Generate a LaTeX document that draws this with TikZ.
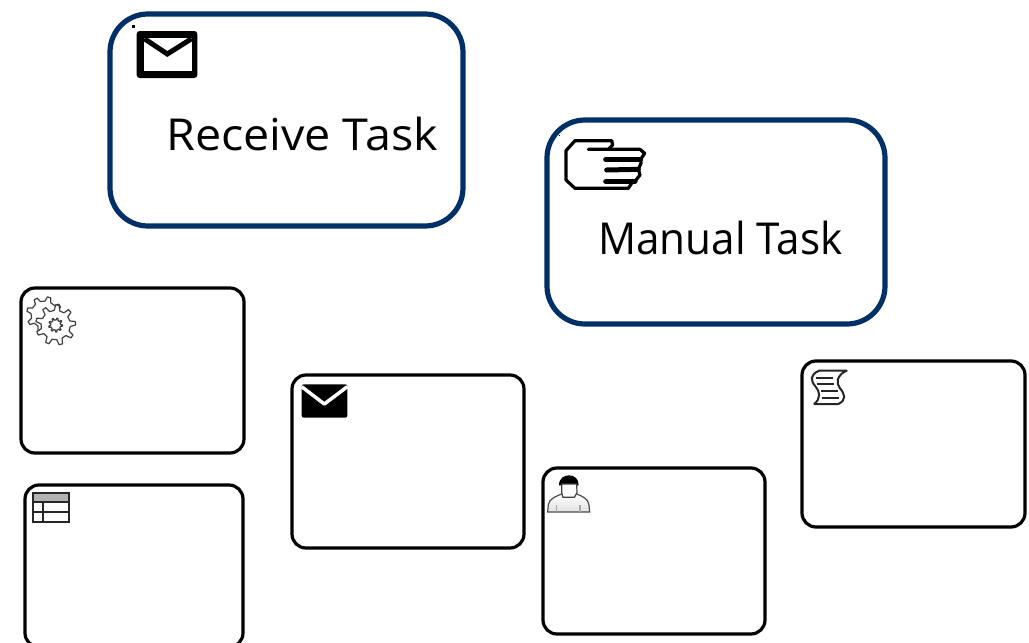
\documentclass[tikz,border=0pt]{standalone}
\usepackage{fontspec}
\setmainfont{Open Sans}
\definecolor{navy}{RGB}{0,48,103}
\tikzset{
  bigtask/.style={draw=navy,line width=5.2pt,rounded corners=38pt,fill=white,outer sep=0pt,inner sep=0pt},
  smalltask/.style={draw=black,line width=3.2pt,rounded corners=14pt,fill=white,outer sep=0pt,inner sep=0pt},
  tasklabel/.style={font=\fontsize{44}{50}\selectfont,text=black,inner sep=0pt,anchor=base west},
  iconline/.style={line join=round,line cap=round}
}
\newcommand{\gearpath}[6]{% cx cy rout rin teeth phase
  \pgfmathsetmacro{\gstep}{360/#5}
  \filldraw[draw=black!75,fill=white,line width=1.2pt,line join=round]
    ({#1+#3*cos(#6)},{#2+#3*sin(#6)})
    \foreach \gi in {1,...,#5}{
      -- ({#1+#3*cos(#6+(\gi-1)*\gstep+0.25*\gstep)},{#2+#3*sin(#6+(\gi-1)*\gstep+0.25*\gstep)})
      -- ({#1+#4*cos(#6+(\gi-1)*\gstep+0.4*\gstep)},{#2+#4*sin(#6+(\gi-1)*\gstep+0.4*\gstep)})
      -- ({#1+#4*cos(#6+(\gi-1)*\gstep+0.85*\gstep)},{#2+#4*sin(#6+(\gi-1)*\gstep+0.85*\gstep)})
      -- ({#1+#3*cos(#6+\gi*\gstep)},{#2+#3*sin(#6+\gi*\gstep)})
    } -- cycle;
}
\begin{document}
\begin{tikzpicture}[x=1pt,y=-1pt]
\useasboundingbox (0,0) rectangle (1029,643);
% big tasks
\node[bigtask,minimum width=353pt,minimum height=212pt] (receive) at (286.5,120) {};
\node[bigtask,minimum width=338pt,minimum height=204pt] (manual) at (716,222) {};
\node[tasklabel] (receivelabel) at (166,150) {\scalebox{1.06}[1]{Receive Task}};
\node[tasklabel] (manuallabel) at (598,254) {\scalebox{0.96}[1]{Manual Task}};
% small tasks
\begin{scope}
\clip (0,0) rectangle (1029,643);
\node[smalltask,minimum width=223pt,minimum height=165pt] (service) at (132.5,370.5) {};
\node[smalltask,minimum width=218pt,minimum height=162pt] (rule) at (134,566) {};
\node[smalltask,minimum width=232pt,minimum height=173pt] (send) at (408,461.5) {};
\node[smalltask,minimum width=222pt,minimum height=166pt] (user) at (654,551) {};
\node[smalltask,minimum width=223pt,minimum height=166pt] (script) at (913.5,444) {};
\end{scope}
% receive icon
\begin{scope}[shift={(100,0)},scale=1/3]
\fill[black] (97,75) rectangle (106,83);
\fill[black,rounded corners=3pt] (110,93) rectangle (292,234);
\fill[white] (133,113) rectangle (275,213);
\draw[line width=5pt,line cap=butt,miter limit=10] (133,116) -- (202,162) -- (275,116);
\end{scope}
% manual icon
\begin{scope}[shift={(540,110)},scale=1/3]
\fill[black] (57,76) rectangle (60,79);
\draw[iconline,line width=3.2pt] (215,92) -- (105,92) -- (78,122) -- (78,210) -- (105,235) -- (265,235) -- (278,215);
\draw[iconline,line width=3.2pt] (215,92) -- (218,105) -- (205,118) -- (145,118);
\draw[iconline,line width=3.2pt] (205,118) -- (300,118) -- (314,130) -- (302,148);
\draw[iconline,line width=5pt] (197,148) -- (302,148);
\draw[iconline,line width=5pt] (200,180) -- (295,178);
\draw[iconline,line width=3.2pt] (302,148) -- (303,160) -- (295,178) -- (300,195) -- (285,214);
\draw[iconline,line width=5pt] (197,214) -- (285,214);
\end{scope}
% service icon
\begin{scope}[shift={(15,280)},scale=1/3]
\gearpath{88}{103}{53}{40}{8}{10}
\gearpath{122}{135}{60}{44}{9}{-10}
\gearpath{122}{135}{21}{15}{9}{0}
\end{scope}
% business rule icon
\begin{scope}[shift={(15,480)},scale=1/3]
\fill[black!30] (53,40) rectangle (163,66);
\draw[line width=2pt,draw=black!85] (53,40) rectangle (163,125);
\draw[line width=2pt,draw=black!85] (53,66) -- (163,66) (53,95) -- (163,95) (85,66) -- (85,125);
\end{scope}
% send icon
\begin{scope}[shift={(285,370)},scale=1/3]
\fill[black,rounded corners=2pt] (50,43) rectangle (187,143);
\draw[white,line width=3.5pt,line join=round,line cap=butt] (50,50) -- (118,102) -- (187,50);
\end{scope}
% user icon
\begin{scope}[shift={(535,462)},scale=1/3]
\draw[line width=1.2pt,draw=black!70,top color=white,bottom color=black!12]
  (38,150) -- (40,128) .. controls (42,110) and (65,102) .. (80,96) -- (125,96)
  .. controls (140,102) and (160,110) .. (162,128) -- (164,150) -- cycle;
\fill[black] (72,70) .. controls (72,48) and (88,40) .. (102,40) .. controls (118,40) and (131,50) .. (131,70) -- cycle;
\draw[line width=1.2pt,draw=black!75,fill=white] (80,66) -- (125,66) -- (126,92) -- (118,106) -- (84,106) -- (80,92) -- cycle;
\draw[line width=1.2pt,draw=black!35] (64,130) -- (64,150) (135,130) -- (135,150);
\end{scope}
% script icon
\begin{scope}[shift={(795,355)},scale=1/3]
\draw[line width=2pt,draw=black!85,line join=round,fill=white]
  (72,47) -- (155,47) .. controls (125,60) and (122,85) .. (135,100)
  .. controls (150,118) and (155,135) .. (130,147) -- (58,147)
  .. controls (78,130) and (75,110) .. (62,95)
  .. controls (45,75) and (45,60) .. (72,47) -- cycle;
\draw[line width=2pt,draw=black!85] (62,68) -- (115,68) (65,88) -- (118,88) (78,108) -- (130,108) (80,128) -- (133,128);
\end{scope}
\end{tikzpicture}
\end{document}
